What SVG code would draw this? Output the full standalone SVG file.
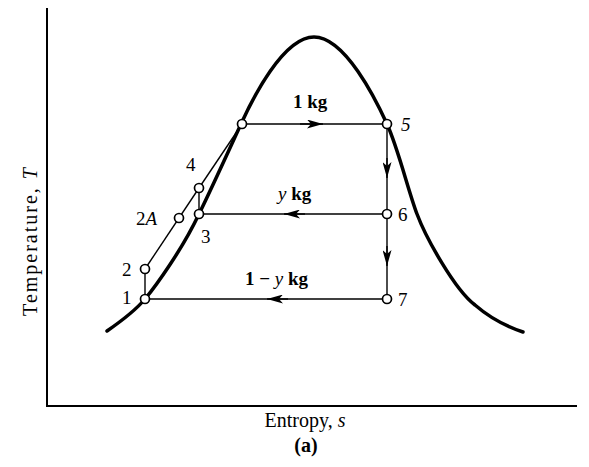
<svg xmlns="http://www.w3.org/2000/svg" width="589" height="467" viewBox="0 0 589 467">
<style>
  .axis { stroke:#000; stroke-width:2; fill:none; }
  .dome { stroke:#000; stroke-width:3.5; fill:none; stroke-linecap:round; }
  .thin { stroke:#000; stroke-width:1.4; fill:none; }
  .pt { fill:#fff; stroke:#000; stroke-width:1.7; }
  text { font-family:"Liberation Serif","Times New Roman",serif; fill:#000; }
  .lbl { font-size:19px; }
  .kg { font-size:19px; font-weight:bold; }
  .ax { font-size:20px; }
</style>
<defs>
  <marker id="arr" markerWidth="17" markerHeight="9" refX="16" refY="4.5" orient="auto" markerUnits="userSpaceOnUse">
    <path d="M0,0 L16,4.5 L0,9 L4,4.5 Z" fill="#000"/>
  </marker>
</defs>
<rect width="589" height="467" fill="#fff"/>
<g id="axes">
  <path class="axis" d="M47,8 V406 H577"/>
  <text class="ax" transform="translate(37,241) rotate(-90)" text-anchor="middle" letter-spacing="2">Temperature, <tspan font-style="italic">T</tspan></text>
  <text class="ax" x="305" y="427" text-anchor="middle">Entropy, <tspan font-style="italic">s</tspan></text>
  <text class="ax" x="306" y="452" text-anchor="middle" font-weight="bold" font-size="16">(a)</text>
</g>
<g id="dome">
  <path class="dome" d="M107,331 C120,322 135,311 145,299 C155,287 182,250 199,214 C208,196 230,148 241,124 C252,100 283,37 314,37 C345,37 376,100 387,124 C398,148 408,190 417,214 C426,238 455,290 475,305 C490,318 505,326 523,332"/>
</g>
<g id="connectors">
  <line class="thin" x1="145" y1="299" x2="145" y2="269"/>
  <line class="thin" x1="145" y1="269" x2="199" y2="188"/>
  <line class="thin" x1="199" y1="188" x2="238" y2="130"/>
  <line class="thin" x1="199" y1="214" x2="199" y2="188"/>
  <line class="thin" x1="242" y1="124" x2="387" y2="124"/>
  <path class="thin" d="M300,124 H323" marker-end="url(#arr)"/>
  <line class="thin" x1="387" y1="124" x2="387" y2="299"/>
  <path class="thin" d="M387,158 V178" marker-end="url(#arr)"/>
  <path class="thin" d="M387,246 V266" marker-end="url(#arr)"/>
  <line class="thin" x1="387" y1="214" x2="199" y2="214"/>
  <path class="thin" d="M305,214 H284" marker-end="url(#arr)"/>
  <line class="thin" x1="387" y1="299" x2="145" y2="299"/>
  <path class="thin" d="M288,299 H267" marker-end="url(#arr)"/>
</g>
<g id="node-a"><circle class="pt" cx="242" cy="124" r="4.5"/></g>
<g id="node-5"><circle class="pt" cx="387" cy="124" r="4.5"/><text class="lbl" x="401" y="131" font-style="italic">5</text></g>
<g id="node-6"><circle class="pt" cx="387" cy="214" r="4.5"/><text class="lbl" x="398" y="221">6</text></g>
<g id="node-7"><circle class="pt" cx="387" cy="299" r="4.5"/><text class="lbl" x="398" y="306">7</text></g>
<g id="node-4"><circle class="pt" cx="199" cy="188" r="4.5"/><text class="lbl" x="186" y="171">4</text></g>
<g id="node-3"><circle class="pt" cx="199" cy="214" r="4.5"/><text class="lbl" x="201" y="243">3</text></g>
<g id="node-2A"><circle class="pt" cx="179" cy="218" r="4.5"/><text class="lbl" x="136" y="225">2<tspan font-style="italic">A</tspan></text></g>
<g id="node-2"><circle class="pt" cx="145" cy="269" r="4.5"/><text class="lbl" x="122" y="276">2</text></g>
<g id="node-1"><circle class="pt" cx="145" cy="299" r="4.5"/><text class="lbl" x="122" y="304">1</text></g>
<g id="labels">
  <text class="kg" x="293" y="108">1 kg</text>
  <text class="kg" x="278" y="200"><tspan font-style="italic" font-weight="normal">y</tspan> kg</text>
  <text class="kg" x="245" y="285">1 − <tspan font-style="italic" font-weight="normal">y</tspan> kg</text>
</g>
</svg>
